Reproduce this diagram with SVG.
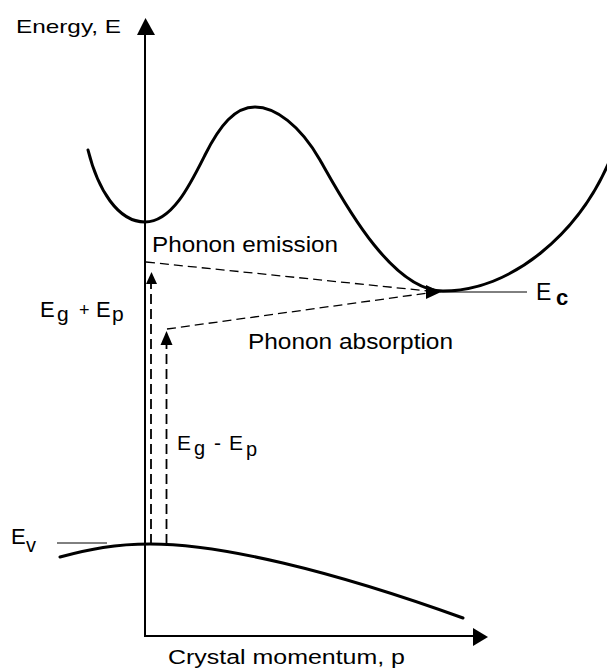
<svg xmlns="http://www.w3.org/2000/svg" width="607" height="670" viewBox="0 0 607 670">
<style>
text{font-family:"Liberation Sans",Arial,Helvetica,sans-serif;fill:#000}
.axis{stroke:#000;stroke-width:2;fill:none}
.band{stroke:#000;stroke-width:3;fill:none;stroke-linecap:round}
.dash{stroke:#000;stroke-width:1.3;fill:none;stroke-dasharray:9 5}
.vdash{stroke:#000;stroke-width:1.8;fill:none;stroke-dasharray:10 5}
.thin{stroke:#000;stroke-width:1;fill:none}
.head{fill:#000}
</style>
<rect width="607" height="670" fill="#fff"/>
<g id="axes">
<path class="axis" d="M145,34 V636 H474"/>
<polygon class="head" points="145.5,18 137,35 155,35"/>
<polygon class="head" points="488,637 473,628 473,646"/>
<text x="16" y="33" font-size="19" textLength="105" lengthAdjust="spacingAndGlyphs">Energy, E</text>
<text x="168" y="664" font-size="20" textLength="237" lengthAdjust="spacingAndGlyphs">Crystal momentum, p</text>
</g>
<g id="conduction-band">
<path class="band" d="M88,150 C98,190 118,222 145,222 S190,185 205,155 S235,107 255,107 S300,125 320,160 S390,291 443,291 C510,291 580,235 612,155"/>
<line class="thin" x1="440" y1="292" x2="527" y2="292"/>
<text x="536" y="300" font-size="23">E<tspan x="556" y="305" font-size="22" font-weight="bold">c</tspan></text>
</g>
<g id="valence-band">
<path class="band" d="M60,557 C90,549 115,544 150,544 C220,544 330,570 463,618"/>
<line class="thin" x1="57" y1="543" x2="107" y2="543"/>
<text x="11" y="544" font-size="22">E<tspan x="26" y="552" font-size="20">v</tspan></text>
</g>
<g id="connectors">
<path class="dash" d="M146,262 L428,291"/>
<path class="dash" d="M167,329 L428,293"/>
<polygon class="head" points="441,292 426,285 426,299"/>
<path class="vdash" d="M151,544 V282"/>
<polygon class="head" points="151.5,272 146,284 157,284"/>
<path class="vdash" d="M166.5,544 V343"/>
<polygon class="head" points="166.5,331 160.5,345 172.5,345"/>
</g>
<g id="labels">
<text x="152" y="252" font-size="22" textLength="186" lengthAdjust="spacingAndGlyphs">Phonon emission</text>
<text x="248" y="349" font-size="22" textLength="205" lengthAdjust="spacingAndGlyphs">Phonon absorption</text>
<text x="40" y="317" font-size="22">E<tspan x="57" y="321" font-size="21">g</tspan><tspan x="79" y="316" font-size="18">+</tspan><tspan x="96" y="317">E</tspan><tspan x="112" y="321" font-size="21">p</tspan></text>
<text x="177" y="450" font-size="21">E<tspan x="194" y="455" font-size="20">g</tspan><tspan x="214" y="450">-</tspan><tspan x="229" y="450">E</tspan><tspan x="246" y="456" font-size="20">p</tspan></text>
</g>
</svg>
